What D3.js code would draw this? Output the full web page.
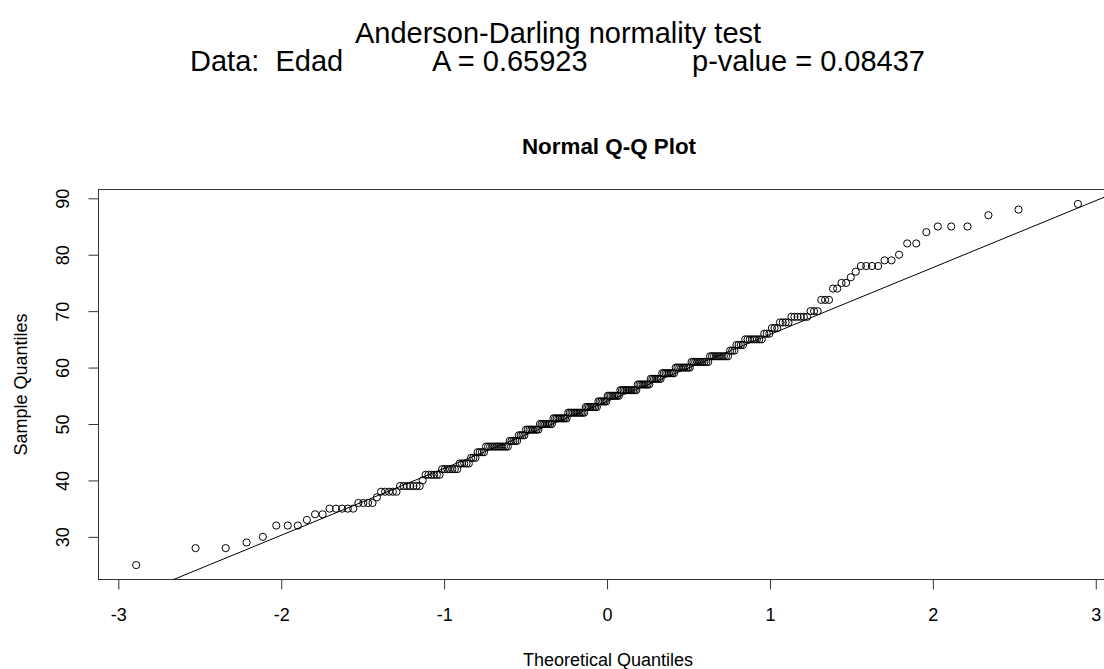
<!DOCTYPE html>
<meta charset="utf-8">
<body style="margin:0;background:#fff">
<div id="div-svg"></div>
<style>
  text { font-family: "Liberation Sans", Arial, sans-serif; fill: #000; }
</style>

<script src="https://cdn.jsdelivr.net/npm/d3@7"></script>
<script>
    // Edad (age) values, with how many times each occurs
    var ages   = [25, 28, 29, 30, 32, 33, 34, 35, 36, 37, 38, 39, 40, 41, 42, 43, 44, 45, 46, 47,
                  48, 49, 50, 51, 52, 53, 54, 55, 56, 57, 58, 59, 60, 61, 62, 63, 64, 65, 66, 67,
                  68, 69, 70, 72, 74, 75, 76, 77, 78, 79, 80, 82, 84, 85, 87, 88, 89];
    var counts = [ 1,  2,  1,  1,  3,  1,  2,  5,  4,  1,  5,  7,  1,  6,  7,  5,  3,  4, 12,  5,
                   4,  8,  8,  9, 11,  8,  6,  8, 11,  8,  7,  8,  9, 10, 10,  3,  4,  8,  3,  3,
                   4,  6,  3,  3,  2,  2,  1,  1,  4,  2,  1,  2,  1,  3,  1,  1,  1];
    var xTicks = [-3, -2, -1, 0, 1, 2, 3];
    var yTicks = [30, 40, 50, 60, 70, 80, 90];

    var titleLine1 = "Anderson-Darling normality test";
    var titleParts = ["Data:  Edad", "A = 0.65923", "p-value = 0.08437"];

    var width = 1104;
    var height = 669;
    var pLeft = 98.5, pRight = 1115.6, pTop = 189.5, pBottom = 579.5;

    // inverse normal cdf (Acklam)
    function qnorm(p) {
      var a = [-39.69683028665376, 220.9460984245205, -275.9285104469687, 138.3577518672690, -30.66479806614716, 2.506628277459239];
      var b = [-54.47609879822406, 161.5858368580409, -155.6989798598866, 66.80131188771972, -13.28068155288572];
      var c = [-0.007784894002430293, -0.3223964580411365, -2.400758277161838, -2.549732539343734, 4.374664141464968, 2.938163982698783];
      var d = [0.007784695709041462, 0.3224671290700398, 2.445134137142996, 3.754408661907416];
      var q, r;
      if (p < 0.02425) {
        q = Math.sqrt(-2 * Math.log(p));
        return (((((c[0]*q+c[1])*q+c[2])*q+c[3])*q+c[4])*q+c[5]) / ((((d[0]*q+d[1])*q+d[2])*q+d[3])*q+1);
      }
      if (p > 1 - 0.02425) {
        q = Math.sqrt(-2 * Math.log(1 - p));
        return -(((((c[0]*q+c[1])*q+c[2])*q+c[3])*q+c[4])*q+c[5]) / ((((d[0]*q+d[1])*q+d[2])*q+d[3])*q+1);
      }
      q = p - 0.5; r = q * q;
      return (((((a[0]*r+a[1])*r+a[2])*r+a[3])*r+a[4])*r+a[5])*q / (((((b[0]*r+b[1])*r+b[2])*r+b[3])*r+b[4])*r+1);
    }

    var sample = [];
    ages.forEach(function(a, i){ for (var k = 0; k < counts[i]; k++) sample.push(a); });
    var n = sample.length;
    var points = sample.map(function(v, i){ return {t: qnorm((i + 0.5) / n), v: v}; });

    // qqline through the quartiles
    var q1 = d3.quantile(sample, 0.25), q3 = d3.quantile(sample, 0.75);
    var slope = (q3 - q1) / (qnorm(0.75) - qnorm(0.25));
    var inter = q1 - slope * qnorm(0.25);

    var tExt = d3.extent(points, function(d){ return d.t; });
    var vExt = d3.extent(sample);
    var tPad = (tExt[1] - tExt[0]) * 0.04, vPad = (vExt[1] - vExt[0]) * 0.04;

    var x = d3.scaleLinear().domain([tExt[0] - tPad, tExt[1] + tPad]).range([pLeft, pRight]);
    var y = d3.scaleLinear().domain([vExt[0] - vPad, vExt[1] + vPad]).range([pBottom, pTop]);

    var svg = d3.select("#div-svg").append("svg")
        .attr("width", width)
        .attr("height", height)
        .style("display", "block");

    svg.append("rect").attr("width", width).attr("height", height).attr("fill", "#fff");

    svg.append("clipPath").attr("id", "clip")
      .append("rect").attr("x", pLeft).attr("y", pTop).attr("width", pRight - pLeft).attr("height", pBottom - pTop);

    // titles
    svg.append("text").attr("x", 558).attr("y", 43).attr("text-anchor", "middle")
      .style("font-size", "29px").text(titleLine1);
    svg.selectAll(".sub").data(titleParts).enter().append("text")
      .attr("class", "sub")
      .attr("x", function(d, i){ return [190, 432, 692][i]; })
      .attr("y", 71)
      .style("font-size", "29px")
      .style("white-space", "pre")
      .text(function(d){ return d; });

    svg.append("text").attr("x", 609).attr("y", 154).attr("text-anchor", "middle")
      .style("font-size", "22.4px").style("font-weight", "bold").text("Normal Q-Q Plot");

    // box
    svg.append("rect").attr("x", pLeft).attr("y", pTop)
      .attr("width", pRight - pLeft).attr("height", pBottom - pTop)
      .attr("fill", "none").attr("stroke", "#333").attr("stroke-width", 1);

    // x axis
    var xAxis = d3.axisBottom(x).tickValues(xTicks).tickSize(10).tickPadding(0)
      .tickFormat(function(d){ return d; });
    var gx = svg.append("g").attr("transform", "translate(0," + pBottom + ")").call(xAxis);
    gx.select(".domain").remove();
    gx.selectAll("text").attr("y", 41.5).attr("dy", 0)
      .style("font-size", "18px").style("font-family", "Liberation Sans, Arial, sans-serif");
    gx.selectAll("line").attr("stroke", "#333");

    // y axis (labels rotated, as R draws them)
    var yAxis = d3.axisLeft(y).tickValues(yTicks).tickSize(10).tickPadding(0)
      .tickFormat(function(d){ return d; });
    var gy = svg.append("g").attr("transform", "translate(" + pLeft + ",0)").call(yAxis);
    gy.select(".domain").remove();
    gy.selectAll("line").attr("stroke", "#333");
    gy.selectAll("text")
      .attr("x", 0).attr("y", 0).attr("dy", 0)
      .attr("text-anchor", "middle")
      .attr("transform", "translate(-30,0) rotate(-90)")
      .style("font-size", "18px").style("font-family", "Liberation Sans, Arial, sans-serif");

    svg.append("text").attr("x", 608).attr("y", 666).attr("text-anchor", "middle")
      .style("font-size", "18px").text("Theoretical Quantiles");
    svg.append("text").attr("transform", "translate(27," + ((pTop + pBottom) / 2) + ") rotate(-90)")
      .attr("text-anchor", "middle").style("font-size", "18px").text("Sample Quantiles");

    // qq line
    var t0 = x.domain()[0], t1 = x.domain()[1];
    svg.append("line").attr("clip-path", "url(#clip)")
      .attr("x1", x(t0)).attr("y1", y(inter + slope * t0))
      .attr("x2", x(t1)).attr("y2", y(inter + slope * t1))
      .attr("stroke", "#000").attr("stroke-width", 1);

    // points
    svg.append("g").selectAll("circle")
      .data(points)
      .enter()
      .append("circle")
      .attr("cx", function(d){ return x(d.t); })
      .attr("cy", function(d){ return y(d.v); })
      .attr("r", 3.6)
      .attr("fill", "none")
      .attr("stroke", "#000")
      .attr("stroke-width", 1);
</script>
</body>
